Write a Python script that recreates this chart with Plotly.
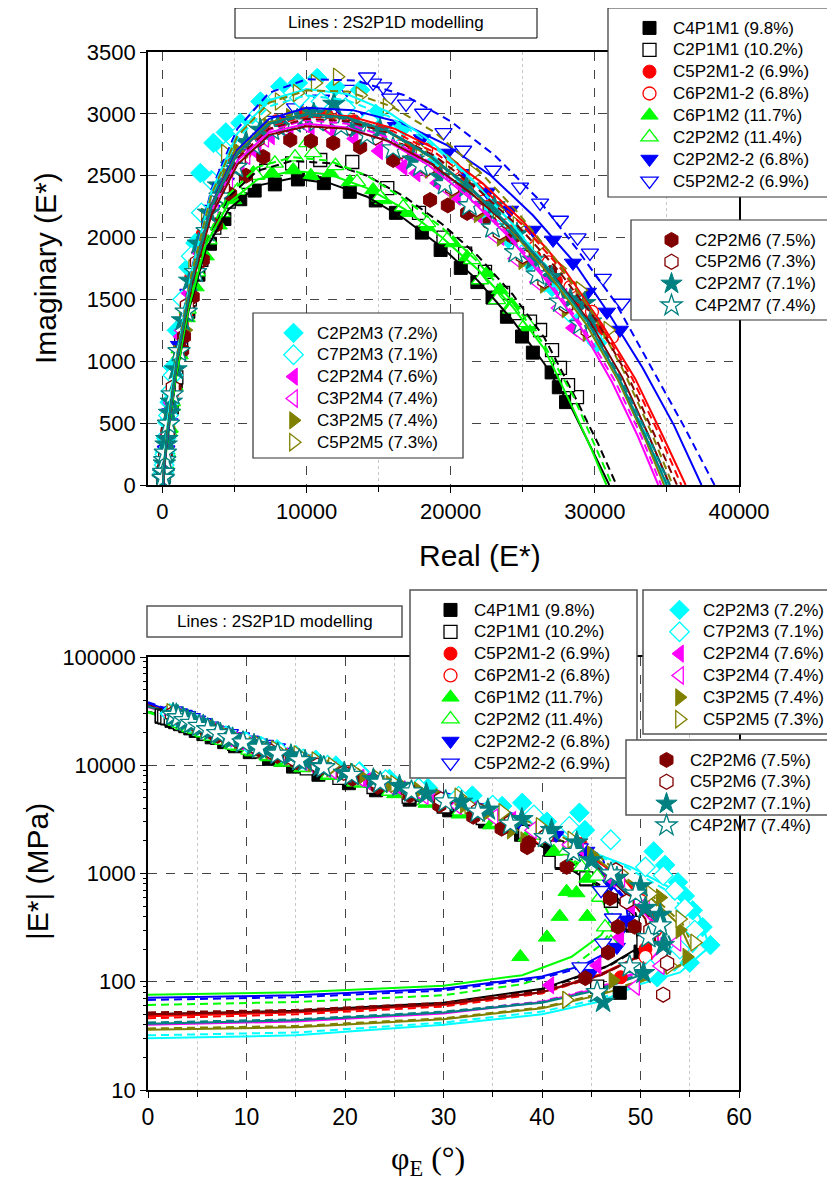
import numpy as np
import plotly.graph_objects as go

# ---------------- measured data ----------------
# high-modulus points: storage (real) and loss (imaginary) modulus, MPa
# low-modulus points: phase angle (deg) and norm |E*| (MPa)
C4P1M1_real = [28000, 27500, 27000, 25700, 24950, 23900, 22900, 21850, 20700, 19300, 18000, 16200, 14800, 13000, 11200, 9400, 7800, 6400, 5400, 4300, 3300, 2500, 1800, 1250]
C4P1M1_imag = [670, 790, 910, 1070, 1200, 1360, 1515, 1640, 1755, 1900, 2040, 2200, 2300, 2370, 2440, 2470, 2430, 2380, 2310, 2150, 1950, 1700, 1400, 1080]
C4P1M1_phase = [42.0, 44.5, 47.0, 49.2, 50.0, 47.9]
C4P1M1_norm = [1250, 880, 560, 330, 190, 79]

C2P1M1_real = [28760, 28140, 27580, 27030, 26200, 25500, 24600, 23630, 22380, 21000, 19500, 17800, 15600, 13170, 10950, 9000, 7200, 5800, 4600, 3600, 2700, 1900, 1300]
C2P1M1_imag = [711, 808, 946, 1091, 1253, 1320, 1390, 1552, 1722, 1870, 2000, 2200, 2400, 2611, 2627, 2600, 2540, 2450, 2290, 2080, 1820, 1500, 1150]
C2P1M1_phase = [42.0, 44.5, 47.0, 49.2, 50.3, 45.6]
C2P1M1_norm = [1300, 900, 560, 350, 232, 90]

C5P2M1_2_real = [30200, 28800, 27300, 25800, 24200, 22600, 20800, 19000, 17100, 15200, 13300, 11400, 9600, 7900, 6400, 5000, 3800, 2800, 2000, 1350]
C5P2M1_2_imag = [1250, 1450, 1650, 1850, 2050, 2250, 2430, 2580, 2720, 2850, 2940, 2990, 3000, 2940, 2820, 2620, 2350, 2030, 1680, 1300]
C5P2M1_2_phase = [47.0, 49.5, 51.0, 50.5, 48.0]
C5P2M1_2_norm = [900, 560, 300, 200, 110]

C6P2M1_2_real = [31190, 29800, 28300, 26800, 25300, 23700, 22000, 20200, 18300, 16400, 14500, 12500, 10600, 8800, 7200, 5700, 4400, 3300, 2400, 1650]
C6P2M1_2_imag = [1196, 1400, 1600, 1800, 2000, 2200, 2390, 2560, 2710, 2840, 2940, 3000, 3010, 2960, 2850, 2680, 2420, 2110, 1760, 1380]
C6P2M1_2_phase = [47.5, 50.0, 51.5, 50.5]
C6P2M1_2_norm = [1000, 560, 300, 170]

C6P1M2_real = [25360, 24250, 23420, 22520, 21140, 20170, 18360, 17000, 15320, 14620, 13000, 11640, 10300, 9080, 7600, 6310, 4920, 3900, 3000, 2300, 1700, 1200]
C6P1M2_imag = [1277, 1455, 1576, 1714, 1843, 1956, 2086, 2200, 2304, 2385, 2450, 2522, 2500, 2546, 2520, 2522, 2304, 2100, 1850, 1600, 1350, 1050]
C6P1M2_phase = [44.6, 43.5, 42.5, 44.6, 41.8, 40.5, 37.8]
C6P1M2_norm = [900, 660, 680, 400, 400, 257, 170]

C2P2M2_real = [25290, 24200, 23220, 22040, 21480, 19750, 18360, 16700, 15110, 13500, 12000, 10460, 10050, 9200, 7800, 6500, 5200, 4100, 3200, 2400, 1750, 1200]
C2P2M2_imag = [1310, 1420, 1496, 1657, 1819, 1981, 2118, 2247, 2328, 2450, 2580, 2684, 2765, 2650, 2600, 2500, 2380, 2200, 1980, 1720, 1420, 1100]
C2P2M2_phase = [44.0, 45.6, 45.9, 46.4, 47.0]
C2P2M2_norm = [1150, 940, 600, 320, 230]

C2P2M2_2_real = [31740, 30840, 29520, 28480, 27100, 25710, 24120, 22520, 21100, 19750, 18000, 16200, 14300, 12400, 10600, 8800, 7200, 5700, 4400, 3300, 2400, 1700, 1150]
C2P2M2_2_imag = [1253, 1399, 1560, 1795, 1981, 2061, 2223, 2369, 2520, 2684, 2800, 2900, 2980, 3031, 3010, 2950, 2850, 2680, 2450, 2170, 1850, 1500, 1130]
C2P2M2_2_phase = [47.0, 48.6, 47.6, 44.9]
C2P2M2_2_norm = [800, 373, 209, 120]

C5P2M2_2_real = [31880, 30560, 29660, 28800, 27580, 26200, 24810, 22940, 20860, 19500, 18090, 16900, 15800, 15320, 14620, 14200, 12800, 11000, 9200, 7500, 5900, 4500, 3400, 2500, 1800, 1250]
C5P2M2_2_imag = [1471, 1673, 1876, 2000, 2142, 2280, 2409, 2546, 2708, 2850, 3007, 3080, 3129, 3220, 3250, 3300, 3200, 3120, 3050, 2950, 2780, 2520, 2230, 1900, 1550, 1200]
C5P2M2_2_phase = [46.0, 47.2, 46.2, 43.9]
C5P2M2_2_norm = [700, 390, 229, 138]

C2P2M3_real = [30150, 28800, 27030, 25500, 24000, 22300, 20600, 18700, 16490, 14800, 13720, 12000, 10740, 9400, 8180, 6800, 5410, 4400, 3540, 3400, 2630, 2290, 1800, 1000]
C2P2M3_imag = [1148, 1330, 1600, 1800, 1990, 2200, 2400, 2600, 2870, 3000, 3193, 3220, 3290, 3250, 3220, 3100, 2927, 2850, 2765, 2466, 2522, 1956, 1760, 1250]
C2P2M3_phase = [52.5, 53.8, 54.5, 55.3, 56.3, 57.1, 55.0, 51.7]
C2P2M3_norm = [1200, 830, 620, 457, 320, 218, 150, 110]

C7P2M3_real = [29800, 28200, 26500, 24900, 23300, 21600, 19800, 17900, 16000, 14300, 12700, 11000, 9500, 8000, 6700, 5500, 4400, 3500, 2700, 2000, 1400]
C7P2M3_imag = [1200, 1400, 1640, 1860, 2060, 2260, 2460, 2650, 2830, 2950, 3050, 3100, 3130, 3137, 3000, 2860, 2700, 2450, 2200, 1850, 1500]
C7P2M3_phase = [50.5, 52.3, 53.5, 54.5, 55.5, 54.0, 51.0]
C7P2M3_norm = [1150, 960, 700, 480, 300, 200, 130]

C2P2M4_real = [28480, 27790, 26300, 24800, 23420, 21900, 20400, 19060, 17600, 16700, 15000, 13300, 11700, 10260, 8800, 7500, 6580, 5400, 4300, 3300, 2500, 1800, 1250]
C2P2M4_imag = [1270, 1520, 1680, 1850, 2005, 2180, 2330, 2441, 2520, 2571, 2700, 2800, 2870, 2894, 2880, 2820, 2684, 2600, 2400, 2150, 1880, 1550, 1200]
C2P2M4_phase = [47.0, 49.0, 47.9, 45.6, 40.8]
C2P2M4_norm = [900, 500, 257, 141, 93]

C3P2M4_real = [29000, 27500, 26000, 24500, 23000, 21400, 19800, 18100, 16400, 14700, 13000, 11400, 9900, 8500, 7100, 5800, 4600, 3600, 2700, 1950, 1350]
C3P2M4_imag = [1230, 1430, 1640, 1830, 2020, 2210, 2390, 2550, 2690, 2800, 2870, 2910, 2920, 2880, 2800, 2660, 2450, 2200, 1900, 1580, 1250]
C3P2M4_phase = [48.0, 50.5, 53.7, 52.0, 49.5]
C3P2M4_norm = [900, 520, 230, 140, 90]

C3P2M5_real = [29450, 28000, 26500, 25000, 23500, 21900, 20200, 18500, 16700, 15000, 13300, 11600, 10000, 8870, 7300, 6100, 5200, 4400, 3670, 3000, 2500, 2000, 1590]
C3P2M5_imag = [1230, 1420, 1620, 1810, 2000, 2190, 2380, 2550, 2700, 2820, 2920, 2970, 2990, 2975, 2900, 2789, 2700, 2500, 2304, 2050, 1846, 1500, 1253]
C3P2M5_phase = [45.0, 48.0, 52.0, 54.0, 54.7, 47.2, 42.5]
C3P2M5_norm = [1500, 1000, 600, 300, 170, 103, 68]

C5P2M5_real = [30900, 28970, 27500, 26000, 24600, 23220, 21550, 19960, 17880, 15590, 13700, 12130, 10600, 9350, 8100, 7000, 6100, 5400, 4370, 3600, 2980, 2100, 1500]
C5P2M5_imag = [1253, 1576, 1750, 1930, 2100, 2223, 2522, 2603, 2708, 3056, 3150, 3300, 3250, 3169, 3100, 3007, 2850, 2652, 2684, 2300, 2166, 1750, 1400]
C5P2M5_phase = [48.0, 51.0, 54.0, 55.5, 53.0, 42.5]
C5P2M5_norm = [1000, 650, 380, 230, 140, 68]

C2P2M6_real = [28070, 26890, 25500, 24330, 22700, 21140, 19800, 18570, 16010, 13720, 11850, 10300, 8870, 7000, 5800, 4700, 3700, 2800, 2100, 1500]
C2P2M6_imag = [1496, 1714, 1850, 2005, 2120, 2199, 2260, 2304, 2627, 2732, 2765, 2780, 2789, 2652, 2500, 2350, 2100, 1820, 1520, 1200]
C2P2M6_phase = [38.5, 42.5, 46.9, 47.7, 49.4, 46.7, 44.4]
C2P2M6_norm = [1750, 1150, 590, 322, 322, 186, 108]

C5P2M6_real = [29500, 28000, 26500, 25000, 23400, 21800, 20100, 18400, 16600, 14800, 13000, 11200, 9500, 8000, 6600, 5300, 4200, 3200, 2400, 1700]
C5P2M6_imag = [1250, 1450, 1650, 1850, 2040, 2230, 2400, 2560, 2700, 2810, 2890, 2930, 2940, 2890, 2790, 2630, 2400, 2120, 1800, 1450]
C5P2M6_phase = [47.5, 48.6, 51.0, 52.7, 52.3]
C5P2M6_norm = [1070, 550, 300, 149, 76]

C2P2M7_real = [29700, 29300, 28300, 27000, 25700, 24600, 23000, 21100, 19300, 17400, 15100, 13500, 11900, 10500, 9350, 8000, 6800, 5800, 4800, 3900, 3200, 2500, 1900, 1400]
C2P2M7_imag = [1320, 1470, 1500, 1680, 1820, 2030, 2260, 2410, 2490, 2630, 2870, 2890, 3080, 3000, 2950, 2900, 2870, 2770, 2580, 2420, 2200, 1950, 1650, 1330]
C2P2M7_phase = [45.0, 47.6, 50.0, 50.5, 52.0, 52.3, 50.3, 46.2]
C2P2M7_norm = [1320, 910, 760, 480, 414, 218, 120, 65]

C4P2M7_real = [29000, 27600, 26000, 24500, 22900, 21300, 19600, 17900, 16000, 14200, 12400, 10700, 9100, 7600, 6300, 5100, 4000, 3100, 2300, 1650, 1150]
C4P2M7_imag = [1300, 1480, 1700, 1880, 2080, 2260, 2430, 2580, 2720, 2830, 2900, 2940, 2930, 2870, 2750, 2570, 2330, 2050, 1720, 1400, 1080]
C4P2M7_phase = [47.0, 49.5, 50.8, 52.0, 48.9, 45.6]
C4P2M7_norm = [1000, 650, 257, 330, 138, 80]

# ---------------- 2S2P1D model lines ----------------
# low-modulus branch as (phase, norm), high-modulus branch as (real, imag)
fit_C4P1M1_phase = [0, 15, 30, 40, 46.6, 49.9, 49.2, 45.9, 42.5]
fit_C4P1M1_norm = [50, 54, 64, 86, 139, 209, 425, 740, 1150]
fit_C4P1M1_real = [900, 1800, 3000, 4600, 6600, 9000, 11600, 14200, 16800, 19400, 21900, 24300, 26500, 28400, 29800, 31000]
fit_C4P1M1_imag = [840, 1400, 1900, 2230, 2420, 2480, 2440, 2330, 2150, 1920, 1650, 1330, 980, 620, 290, 0]

fit_C2P1M1_phase = [0, 15, 30, 40, 46.8, 50.3, 49.5, 46.2, 42.8]
fit_C2P1M1_norm = [49, 53, 63, 84, 140, 215, 430, 750, 1160]
fit_C2P1M1_real = [900, 1800, 3000, 4600, 6600, 9000, 11600, 14200, 16800, 19400, 21900, 24300, 26500, 28500, 30200, 31500]
fit_C2P1M1_imag = [860, 1440, 1970, 2330, 2540, 2620, 2600, 2500, 2330, 2110, 1850, 1540, 1190, 740, 340, 0]

fit_C5P2M1_2_phase = [0, 15, 30, 40, 46, 50, 51.5, 51, 48.5]
fit_C5P2M1_2_norm = [48, 52, 61, 80, 118, 175, 240, 450, 850]
fit_C5P2M1_2_real = [1000, 2000, 3400, 5200, 7400, 10000, 13000, 16100, 19200, 22200, 25100, 27900, 30500, 32800, 34700, 36300]
fit_C5P2M1_2_imag = [1000, 1640, 2250, 2680, 2920, 3000, 2980, 2880, 2700, 2440, 2120, 1740, 1300, 860, 400, 0]

fit_C6P2M1_2_phase = [0, 15, 30, 40, 46, 50, 51.8, 51.2, 48.7]
fit_C6P2M1_2_norm = [46, 50, 59, 78, 115, 172, 240, 450, 850]
fit_C6P2M1_2_real = [1000, 2000, 3400, 5200, 7400, 10000, 13000, 16000, 19000, 22000, 24900, 27700, 30300, 32600, 34500, 36000]
fit_C6P2M1_2_imag = [1000, 1630, 2240, 2670, 2900, 2980, 2960, 2860, 2680, 2420, 2110, 1740, 1310, 860, 400, 0]

fit_C6P1M2_phase = [0, 15, 30, 38, 43, 46, 47, 46, 44.5]
fit_C6P1M2_norm = [76, 80, 92, 115, 170, 270, 380, 600, 900]
fit_C6P1M2_real = [900, 1800, 3000, 4600, 6600, 9000, 11600, 14200, 16800, 19400, 21900, 24300, 26500, 28400, 29800, 30800]
fit_C6P1M2_imag = [850, 1420, 1940, 2280, 2470, 2540, 2510, 2400, 2230, 2000, 1740, 1440, 1100, 640, 280, 0]

fit_C2P2M2_phase = [0, 15, 30, 38, 43, 46, 47.5, 46.5, 44.8]
fit_C2P2M2_norm = [61, 65, 75, 95, 135, 220, 340, 580, 880]
fit_C2P2M2_real = [900, 1800, 3000, 4600, 6600, 9000, 11600, 14200, 16800, 19400, 21900, 24300, 26500, 28500, 30000, 31200]
fit_C2P2M2_imag = [860, 1440, 1980, 2350, 2570, 2650, 2620, 2500, 2310, 2080, 1800, 1480, 1130, 720, 320, 0]

fit_C2P2M2_2_phase = [0, 15, 30, 40, 44, 47, 48.8, 48.5, 46.5]
fit_C2P2M2_2_norm = [71, 75, 86, 112, 140, 195, 330, 560, 900]
fit_C2P2M2_2_real = [1000, 2000, 3400, 5200, 7400, 10000, 13200, 16500, 19700, 22800, 25700, 28500, 31000, 33300, 35500, 37400]
fit_C2P2M2_2_imag = [1000, 1650, 2270, 2710, 2960, 3050, 3030, 2930, 2750, 2500, 2180, 1810, 1380, 950, 480, 0]

fit_C5P2M2_2_phase = [0, 15, 30, 40, 44, 47, 49, 48.7, 46.7]
fit_C5P2M2_2_norm = [68, 72, 83, 108, 135, 190, 330, 560, 900]
fit_C5P2M2_2_real = [1000, 2000, 3400, 5200, 7400, 10000, 13400, 16800, 20000, 23100, 26000, 28800, 31400, 33900, 36200, 38300]
fit_C5P2M2_2_imag = [1040, 1730, 2390, 2880, 3170, 3280, 3270, 3150, 2940, 2660, 2320, 1900, 1480, 960, 470, 0]

fit_C2P2M3_phase = [0, 15, 30, 40, 46, 50, 54, 57, 56, 53.5, 49]
fit_C2P2M3_norm = [30, 32, 40, 50, 66, 95, 122, 210, 400, 700, 1150]
fit_C2P2M3_real = [1000, 2000, 3400, 5200, 7400, 10000, 12800, 15600, 18500, 21400, 24200, 26900, 29400, 31600, 33400, 34900]
fit_C2P2M3_imag = [1040, 1720, 2370, 2840, 3110, 3200, 3160, 3020, 2790, 2480, 2120, 1720, 1300, 850, 400, 0]

fit_C7P2M3_phase = [0, 15, 30, 40, 46, 50, 53.5, 56, 55, 52.5, 48.5]
fit_C7P2M3_norm = [32, 34, 42, 53, 70, 100, 128, 220, 410, 710, 1150]
fit_C7P2M3_real = [1000, 2000, 3400, 5200, 7400, 10000, 12800, 15700, 18600, 21500, 24300, 27000, 29500, 31700, 33600, 35100]
fit_C7P2M3_imag = [1030, 1700, 2340, 2800, 3060, 3150, 3110, 2980, 2760, 2460, 2110, 1720, 1310, 860, 400, 0]

fit_C2P2M4_phase = [0, 15, 30, 40, 46, 50, 52, 51.5, 49, 46.5]
fit_C2P2M4_norm = [40, 43, 51, 65, 88, 125, 200, 330, 600, 950]
fit_C2P2M4_real = [1000, 2000, 3400, 5200, 7400, 10000, 12800, 15600, 18400, 21200, 23900, 26500, 29000, 31200, 33000, 34400]
fit_C2P2M4_imag = [1000, 1630, 2220, 2620, 2850, 2920, 2890, 2780, 2590, 2330, 2020, 1670, 1280, 830, 390, 0]

fit_C3P2M4_phase = [0, 15, 30, 40, 46, 50, 52.3, 51.8, 49.2, 46.6]
fit_C3P2M4_norm = [41, 44, 52, 66, 90, 128, 205, 335, 600, 950]
fit_C3P2M4_real = [1000, 2000, 3400, 5200, 7400, 10000, 12800, 15600, 18400, 21200, 23900, 26600, 29100, 31400, 33200, 34600]
fit_C3P2M4_imag = [1000, 1640, 2240, 2640, 2870, 2950, 2920, 2810, 2620, 2350, 2040, 1680, 1290, 840, 400, 0]

fit_C3P2M5_phase = [0, 15, 30, 40, 46, 50, 54, 55, 54, 51, 47.5]
fit_C3P2M5_norm = [36, 38, 45, 57, 76, 100, 140, 210, 330, 600, 1000]
fit_C3P2M5_real = [1000, 2000, 3400, 5200, 7400, 10000, 12800, 15700, 18600, 21500, 24200, 26900, 29400, 31600, 33400, 34800]
fit_C3P2M5_imag = [1010, 1650, 2260, 2690, 2930, 3000, 2970, 2850, 2650, 2380, 2060, 1690, 1300, 850, 400, 0]

fit_C5P2M5_phase = [0, 15, 30, 40, 46, 50, 54.2, 55.3, 54.3, 51.3, 47.8]
fit_C5P2M5_norm = [37, 39, 46, 58, 78, 103, 145, 215, 340, 610, 1000]
fit_C5P2M5_real = [1000, 2000, 3400, 5200, 7400, 10000, 12900, 15900, 18900, 21800, 24600, 27300, 29800, 32000, 33900, 35400]
fit_C5P2M5_imag = [1030, 1700, 2350, 2820, 3090, 3190, 3180, 3060, 2850, 2560, 2210, 1820, 1400, 920, 430, 0]

fit_C2P2M6_phase = [0, 15, 30, 40, 46, 49.5, 51, 50.5, 48.5, 46.5]
fit_C2P2M6_norm = [50, 53, 62, 80, 115, 165, 230, 380, 650, 980]
fit_C2P2M6_real = [1000, 2000, 3400, 5200, 7400, 10000, 12800, 15700, 18600, 21500, 24400, 27100, 29700, 31900, 33700, 35200]
fit_C2P2M6_imag = [980, 1600, 2180, 2590, 2830, 2900, 2880, 2780, 2600, 2350, 2050, 1700, 1310, 870, 410, 0]

fit_C5P2M6_phase = [0, 15, 30, 40, 46, 50, 51.5, 51, 48.8, 46.6]
fit_C5P2M6_norm = [52, 55, 64, 82, 118, 170, 235, 390, 660, 980]
fit_C5P2M6_real = [1000, 2000, 3400, 5200, 7400, 10000, 12900, 15900, 18900, 21800, 24700, 27500, 30100, 32300, 34100, 35700]
fit_C5P2M6_imag = [990, 1620, 2220, 2640, 2880, 2960, 2940, 2840, 2660, 2400, 2090, 1730, 1330, 880, 410, 0]

fit_C2P2M7_phase = [0, 15, 30, 40, 46, 50, 52.5, 53, 52, 49.5, 47]
fit_C2P2M7_norm = [41, 44, 52, 64, 85, 115, 160, 210, 330, 560, 900]
fit_C2P2M7_real = [1000, 2000, 3400, 5200, 7400, 10000, 12800, 15700, 18600, 21500, 24300, 27000, 29500, 31700, 33500, 35000]
fit_C2P2M7_imag = [1000, 1640, 2250, 2680, 2920, 3000, 2970, 2860, 2660, 2390, 2070, 1710, 1320, 860, 400, 0]

fit_C4P2M7_phase = [0, 15, 30, 40, 46, 50, 52.8, 53.3, 52.3, 49.8, 47.2]
fit_C4P2M7_norm = [42, 45, 53, 65, 87, 118, 163, 215, 335, 565, 900]
fit_C4P2M7_real = [1000, 2000, 3400, 5200, 7400, 10000, 12800, 15700, 18600, 21500, 24300, 27000, 29600, 31800, 33700, 35200]
fit_C4P2M7_imag = [990, 1630, 2240, 2670, 2910, 2990, 2960, 2850, 2650, 2380, 2060, 1700, 1310, 860, 400, 0]

# ---------------- series table (names, styles, legend block) ----------------
series = [
    ("C4P1M1 (9.8%)", C4P1M1_real, C4P1M1_imag, C4P1M1_phase, C4P1M1_norm,
     fit_C4P1M1_phase, fit_C4P1M1_norm, fit_C4P1M1_real, fit_C4P1M1_imag, "square", "#000000", True, 0),
    ("C2P1M1 (10.2%)", C2P1M1_real, C2P1M1_imag, C2P1M1_phase, C2P1M1_norm,
     fit_C2P1M1_phase, fit_C2P1M1_norm, fit_C2P1M1_real, fit_C2P1M1_imag, "square", "#000000", False, 0),
    ("C5P2M1-2 (6.9%)", C5P2M1_2_real, C5P2M1_2_imag, C5P2M1_2_phase, C5P2M1_2_norm,
     fit_C5P2M1_2_phase, fit_C5P2M1_2_norm, fit_C5P2M1_2_real, fit_C5P2M1_2_imag, "circle", "#FF0000", True, 0),
    ("C6P2M1-2 (6.8%)", C6P2M1_2_real, C6P2M1_2_imag, C6P2M1_2_phase, C6P2M1_2_norm,
     fit_C6P2M1_2_phase, fit_C6P2M1_2_norm, fit_C6P2M1_2_real, fit_C6P2M1_2_imag, "circle", "#FF0000", False, 0),
    ("C6P1M2 (11.7%)", C6P1M2_real, C6P1M2_imag, C6P1M2_phase, C6P1M2_norm,
     fit_C6P1M2_phase, fit_C6P1M2_norm, fit_C6P1M2_real, fit_C6P1M2_imag, "triangle-up", "#00FF00", True, 0),
    ("C2P2M2 (11.4%)", C2P2M2_real, C2P2M2_imag, C2P2M2_phase, C2P2M2_norm,
     fit_C2P2M2_phase, fit_C2P2M2_norm, fit_C2P2M2_real, fit_C2P2M2_imag, "triangle-up", "#00FF00", False, 0),
    ("C2P2M2-2 (6.8%)", C2P2M2_2_real, C2P2M2_2_imag, C2P2M2_2_phase, C2P2M2_2_norm,
     fit_C2P2M2_2_phase, fit_C2P2M2_2_norm, fit_C2P2M2_2_real, fit_C2P2M2_2_imag, "triangle-down", "#0000FF", True, 0),
    ("C5P2M2-2 (6.9%)", C5P2M2_2_real, C5P2M2_2_imag, C5P2M2_2_phase, C5P2M2_2_norm,
     fit_C5P2M2_2_phase, fit_C5P2M2_2_norm, fit_C5P2M2_2_real, fit_C5P2M2_2_imag, "triangle-down", "#0000FF", False, 0),
    ("C2P2M3 (7.2%)", C2P2M3_real, C2P2M3_imag, C2P2M3_phase, C2P2M3_norm,
     fit_C2P2M3_phase, fit_C2P2M3_norm, fit_C2P2M3_real, fit_C2P2M3_imag, "diamond", "#00FFFF", True, 1),
    ("C7P2M3 (7.1%)", C7P2M3_real, C7P2M3_imag, C7P2M3_phase, C7P2M3_norm,
     fit_C7P2M3_phase, fit_C7P2M3_norm, fit_C7P2M3_real, fit_C7P2M3_imag, "diamond", "#00FFFF", False, 1),
    ("C2P2M4 (7.6%)", C2P2M4_real, C2P2M4_imag, C2P2M4_phase, C2P2M4_norm,
     fit_C2P2M4_phase, fit_C2P2M4_norm, fit_C2P2M4_real, fit_C2P2M4_imag, "triangle-left", "#FF00FF", True, 1),
    ("C3P2M4 (7.4%)", C3P2M4_real, C3P2M4_imag, C3P2M4_phase, C3P2M4_norm,
     fit_C3P2M4_phase, fit_C3P2M4_norm, fit_C3P2M4_real, fit_C3P2M4_imag, "triangle-left", "#FF00FF", False, 1),
    ("C3P2M5 (7.4%)", C3P2M5_real, C3P2M5_imag, C3P2M5_phase, C3P2M5_norm,
     fit_C3P2M5_phase, fit_C3P2M5_norm, fit_C3P2M5_real, fit_C3P2M5_imag, "triangle-right", "#808000", True, 1),
    ("C5P2M5 (7.3%)", C5P2M5_real, C5P2M5_imag, C5P2M5_phase, C5P2M5_norm,
     fit_C5P2M5_phase, fit_C5P2M5_norm, fit_C5P2M5_real, fit_C5P2M5_imag, "triangle-right", "#808000", False, 1),
    ("C2P2M6 (7.5%)", C2P2M6_real, C2P2M6_imag, C2P2M6_phase, C2P2M6_norm,
     fit_C2P2M6_phase, fit_C2P2M6_norm, fit_C2P2M6_real, fit_C2P2M6_imag, "hexagon", "#800000", True, 2),
    ("C5P2M6 (7.3%)", C5P2M6_real, C5P2M6_imag, C5P2M6_phase, C5P2M6_norm,
     fit_C5P2M6_phase, fit_C5P2M6_norm, fit_C5P2M6_real, fit_C5P2M6_imag, "hexagon", "#800000", False, 2),
    ("C2P2M7 (7.1%)", C2P2M7_real, C2P2M7_imag, C2P2M7_phase, C2P2M7_norm,
     fit_C2P2M7_phase, fit_C2P2M7_norm, fit_C2P2M7_real, fit_C2P2M7_imag, "star", "#008080", True, 2),
    ("C4P2M7 (7.4%)", C4P2M7_real, C4P2M7_imag, C4P2M7_phase, C4P2M7_norm,
     fit_C4P2M7_phase, fit_C4P2M7_norm, fit_C4P2M7_real, fit_C4P2M7_imag, "star", "#008080", False, 2),
]

SIZES = {"square": 13, "circle": 13, "triangle-up": 15, "triangle-down": 15,
         "triangle-left": 15, "triangle-right": 15, "diamond": 15, "hexagon": 15, "star": 17}
TOP_LEG = ["legend", "legend3", "legend2"]
BOT_LEG = ["legend4", "legend5", "legend6"]


def cole(real, imag, phase, norm):
    """Combine both parts in the Cole-Cole (real, imaginary) space."""
    ph = np.radians(np.asarray(phase, float))
    nm = np.asarray(norm, float)
    x = np.concatenate([np.asarray(real, float), nm * np.cos(ph)])
    y = np.concatenate([np.asarray(imag, float), nm * np.sin(ph)])
    return x, y


def black(real, imag, phase, norm):
    """Combine both parts in Black space (phase angle, norm)."""
    re = np.asarray(real, float)
    im = np.asarray(imag, float)
    x = np.concatenate([np.degrees(np.arctan2(im, re)), np.asarray(phase, float)])
    y = np.concatenate([np.hypot(re, im), np.asarray(norm, float)])
    return x, y


def marker_style(sym, col, filled):
    return dict(symbol=sym, size=SIZES[sym],
                color=col if filled else "white",
                line=dict(color=col, width=1 if filled else 1.3))


def leg_name(name):
    # larger legend text while keeping the compact row pitch of the original
    return '<span style="font-size:17px">' + name + "</span>"


fig = go.Figure()

# ---- top: Cole-Cole, markers then model lines
for (name, re, im, ph, nm, fph, fnm, fre, fim, sym, col, filled, grp) in series:
    x, y = cole(re, im, ph, nm)
    fig.add_trace(go.Scatter(x=x, y=y, mode="markers", name=leg_name(name),
                             marker=marker_style(sym, col, filled),
                             legend=TOP_LEG[grp], xaxis="x", yaxis="y"))
for (name, re, im, ph, nm, fph, fnm, fre, fim, sym, col, filled, grp) in series:
    lx_low, ly_low = cole([], [], fph, fnm)
    lx = np.concatenate([lx_low, np.asarray(fre, float)])
    ly = np.concatenate([ly_low, np.asarray(fim, float)])
    fig.add_trace(go.Scatter(x=lx, y=ly, mode="lines", showlegend=False,
                             line=dict(color=col, width=2,
                                       dash="solid" if filled else "8px,5px"),
                             xaxis="x", yaxis="y"))

# ---- bottom: Black diagram, model lines then markers
for (name, re, im, ph, nm, fph, fnm, fre, fim, sym, col, filled, grp) in series:
    hx, hy = black(fre, fim, [], [])
    lx = np.concatenate([np.asarray(fph, float), hx])
    ly = np.concatenate([np.asarray(fnm, float), hy])
    fig.add_trace(go.Scatter(x=lx, y=ly, mode="lines", showlegend=False,
                             line=dict(color=col, width=2,
                                       dash="solid" if filled else "8px,5px"),
                             xaxis="x2", yaxis="y2"))
for (name, re, im, ph, nm, fph, fnm, fre, fim, sym, col, filled, grp) in series:
    x, y = black(re, im, ph, nm)
    fig.add_trace(go.Scatter(x=x, y=y, mode="markers", name=leg_name(name),
                             marker=marker_style(sym, col, filled),
                             legend=BOT_LEG[grp], xaxis="x2", yaxis="y2"))

# page pixel -> paper fraction (the page body adds an 8 px offset)
W, H = 835.0, 1180.0
OFF = 8.0


def fx(px):
    return (px - OFF) / W


def fy(py):
    return 1 - (py - OFF) / H


xdom = [fx(148), fx(739)]
axis_common = dict(showline=True, linecolor="black", linewidth=1.6, mirror=True,
                   ticks="outside", ticklen=6, tickwidth=1.4, tickcolor="black",
                   zeroline=False, showgrid=True, gridcolor="#444444", griddash="dash",
                   gridwidth=1, automargin=False)

fig.update_layout(
    width=835, height=1180,
    margin=dict(l=0, r=0, t=0, b=0, autoexpand=False),
    paper_bgcolor="white", plot_bgcolor="white",
    font=dict(family="Liberation Sans, Arial, sans-serif", color="black"),
    xaxis=dict(domain=xdom, anchor="y", range=[-1000, 40000], dtick=10000, tick0=0,
               tickformat="d", tickfont=dict(size=22, color="black"),
               minor=dict(dtick=5000, ticks="outside", ticklen=5, tickcolor="black",
                          showgrid=True, gridcolor="#c8c8c8", griddash="dot"),
               **axis_common),
    yaxis=dict(domain=[fy(485), fy(52)], anchor="x", range=[0, 3500],
               dtick=500, tickformat="d", tickfont=dict(size=22, color="black"),
               **axis_common),
    xaxis2=dict(domain=xdom, anchor="y2", range=[0, 60], dtick=10, tick0=0,
                tickfont=dict(size=23, color="black",
                              family="Liberation Sans Narrow, Arial Narrow, Liberation Sans, Arial"),
                minor=dict(dtick=5, ticks="outside", ticklen=5, tickcolor="black",
                           showgrid=True, gridcolor="#c8c8c8", griddash="dot"),
                **axis_common),
    yaxis2=dict(domain=[fy(1090), fy(657)], anchor="x2", type="log",
                range=[1, 5], dtick=1, tickformat="d", tickfont=dict(size=22, color="black"),
                minor=dict(dtick="D1", ticks="outside", ticklen=3, tickcolor="black",
                           showgrid=False),
                **axis_common),
)

# axis titles placed where the original puts them
titles = [
    ("Real (E*)", 480, 555, 0, 30, "Liberation Sans, Arial, sans-serif"),
    ("Imaginary (E*)", 46, 268, -90, 30, "Liberation Sans, Arial, sans-serif"),
    ("|E*| (MPa)", 37, 872, -90, 30, "Liberation Sans, Arial, sans-serif"),
    ("φ<sub>E</sub> (°)", 428, 1160, 0, 32, "Liberation Serif, Times New Roman, serif"),
]
for (txt, px, py, ang, sz, fam) in titles:
    fig.add_annotation(xref="paper", yref="paper", x=fx(px), y=fy(py),
                       xanchor="center", yanchor="middle", textangle=ang,
                       text=txt, showarrow=False,
                       font=dict(size=sz, family=fam, color="black"))

# legend frames (drawn as shapes) and legends placed inside them
frames = [  # (left, top, right, bottom) in page px, border colour, width, legend id, text shift
    (608, 8, 845, 197, "#333333", 1.2, "legend", 18),
    (631, 220, 845, 320, "#333333", 1.2, "legend2", 17),
    (253, 313, 463, 458, "#333333", 1.2, "legend3", 17),
    (410, 590, 637, 778, "#555555", 1.5, "legend4", 17),
    (643, 590, 845, 734, "#555555", 1.5, "legend5", 13),
    (626, 740, 845, 815, "#555555", 1.5, "legend6", 17),
]
legs = {}
for (x0, y0, x1, y1, bc, bw, lid, shift) in frames:
    fig.add_shape(type="rect", xref="paper", yref="paper",
                  x0=fx(x0), x1=fx(x1), y0=fy(y1), y1=fy(y0),
                  line=dict(color=bc, width=bw), fillcolor="white", layer="above")
    legs[lid] = dict(x=fx(x0 + shift), y=fy(y0 + 4), xanchor="left", yanchor="top",
                     xref="paper", yref="paper", bgcolor="rgba(0,0,0,0)", borderwidth=0,
                     font=dict(size=14.5, color="black"), itemwidth=37, tracegroupgap=0)
fig.update_layout(**legs)

# "Lines : 2S2P1D modelling" boxes
fig.add_shape(type="rect", xref="paper", yref="paper",
              x0=fx(235), x1=fx(537), y0=fy(38), y1=fy(8),
              line=dict(color="black", width=1), fillcolor="white", layer="above")
fig.add_annotation(xref="paper", yref="paper", x=fx(386), y=fy(23),
                   xanchor="center", yanchor="middle",
                   text="Lines : 2S2P1D modelling", showarrow=False,
                   font=dict(size=17, color="black"))
fig.add_shape(type="rect", xref="paper", yref="paper",
              x0=fx(147), x1=fx(402), y0=fy(637), y1=fy(606),
              line=dict(color="#555555", width=1.5), fillcolor="white", layer="above")
fig.add_annotation(xref="paper", yref="paper", x=fx(274.5), y=fy(621.5),
                   xanchor="center", yanchor="middle",
                   text="Lines : 2S2P1D modelling", showarrow=False,
                   font=dict(size=17, color="black"))

fig.write_html("out.html")
